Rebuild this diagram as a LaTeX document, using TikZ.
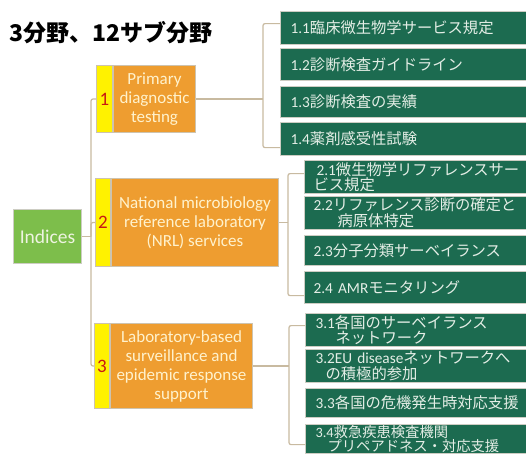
\documentclass[tikz,border=0pt]{standalone}
\usepackage{fontspec}
\setmainfont{Carlito}
\newfontfamily\cjk{Noto Sans CJK JP}
\usetikzlibrary{calc}
\definecolor{orng}{RGB}{238,157,48}
\definecolor{oborder}{RGB}{205,195,175}
\definecolor{otext}{RGB}{255,242,205}
\definecolor{nred}{RGB}{200,25,20}
\definecolor{dgreen}{RGB}{28,107,80}
\definecolor{gborder}{RGB}{205,205,195}
\definecolor{gtext}{RGB}{228,238,230}
\definecolor{lgreen}{RGB}{125,190,75}
\definecolor{ltext}{RGB}{238,244,225}
\definecolor{lineclr}{RGB}{200,186,160}
\begin{document}
\begin{tikzpicture}[x=1pt,y=-1pt,
  gbox/.style={draw=gborder, line width=1.2pt, fill=dgreen, text=gtext,
    font=\cjk\fontsize{15.3}{15.8}\selectfont, anchor=north west, align=left,
    inner ysep=0pt, inner xsep=10pt, text width=230pt, minimum height=#1},
  obox/.style={draw=oborder, line width=1pt, fill=orng, text=otext,
    font=\fontsize{17}{19}\selectfont, align=center, anchor=north west, inner sep=0pt},
  ystrip/.style={draw=oborder, line width=1pt, fill=yellow, text=nred,
    font=\fontsize{19}{19}\selectfont, anchor=north east, inner sep=0pt},
  conn/.style={draw=lineclr, line width=1.2pt, rounded corners=2pt}]
\clip (0,0) rectangle (526,453);
\fill[white] (0,0) rectangle (526,453);

% title
\node[anchor=west, inner sep=0pt, font=\cjk\bfseries\fontsize{23}{23}\selectfont] (title) at (9,33) {3分野、12サブ分野};

% root
\node[draw=gborder, line width=1pt, fill=lgreen, text=ltext, anchor=north west,
  minimum width=68pt, minimum height=54pt, inner sep=0pt,
  font=\fontsize{19.5}{20}\selectfont] (ind) at (13,209) {Indices};

% orange category boxes
\node[obox, minimum width=82pt, minimum height=67pt] (b1) at (113,65) {Primary\\diagnostic\\testing};
\node[ystrip, minimum width=16pt, minimum height=67pt] (n1) at (b1.north west) {1};
\node[obox, minimum width=167pt, minimum height=88pt] (b2) at (111,178) {National microbiology\\reference laboratory\\(NRL) services};
\node[ystrip, minimum width=15pt, minimum height=88pt] (n2) at (b2.north west) {2};
\node[obox, minimum width=142pt, minimum height=85pt] (b3) at (110,323) {Laboratory-based\\surveillance and\\epidemic response\\support};
\node[ystrip, minimum width=15pt, minimum height=85pt] (n3) at (b3.north west) {3};

% group 1
\node[gbox=33pt] (g11) at (280,11) {{\rmfamily 1.1}臨床微生物学サービス規定};
\node[gbox=32pt] (g12) at (280,48) {{\rmfamily 1.2}診断検査ガイドライン};
\node[gbox=31pt] (g13) at (280,86) {{\rmfamily 1.3}診断検査の実績};
\node[gbox=33pt] (g14) at (280,122) {{\rmfamily 1.4}薬剤感受性試験};

% group 2
\node[gbox=33pt, inner xsep=12pt] (g21) at (304,160) {{\rmfamily 2.1}微生物学リファレンスサー\\\hspace*{-3pt}ビス規定};
\node[gbox=33pt, inner xsep=9pt] (g22) at (304,196) {{\rmfamily 2.2}リファレンス診断の確定と\\\hspace*{24pt}病原体特定};
\node[gbox=30pt, inner xsep=9pt] (g23) at (304,235) {{\rmfamily 2.3}分子分類サーベイランス};
\node[gbox=32pt, inner xsep=9pt] (g24) at (304,271) {{\rmfamily 2.4 AMR}モニタリング};

% group 3
\node[gbox=33pt] (g31) at (305,313) {{\rmfamily 3.1}各国のサーベイランス\\\hspace*{20pt}ネットワーク};
\node[gbox=33pt] (g32) at (305,349) {{\rmfamily 3.2EU disease}ネットワークへ\\\hspace*{10pt}の積極的参加};
\node[gbox=29pt] (g33) at (305,388) {{\rmfamily 3.3}各国の危機発生時対応支援};
\node[gbox=29pt, font=\cjk\fontsize{14.3}{14.8}\selectfont] (g34) at (305,424) {{\rmfamily 3.4}救急疾患検査機関\\\hspace*{12pt}プリペアドネス・対応支援};

% trunk
\draw[conn] (ind.east) -- ++(9,0) coordinate (tr);
\draw[conn] (n1.west) -| (tr) |- (n3.west);
\draw[conn] (tr) |- (n2.west);

% brackets
\draw[conn] (b1.east) -- ++(67,0) coordinate (k1);
\draw[conn] ([yshift=4.5pt]g11.west) -| (k1) |- ([yshift=-8.5pt]g14.west);
\draw[conn] (b2.east) -- ++(9,0) coordinate (k2);
\draw[conn] ([yshift=3.5pt]g21.west) -| (k2) |- ([yshift=-8pt]g24.west);
\draw[conn] (b3.east) -- ++(36,0) coordinate (k3);
\draw[conn] ([yshift=4.5pt]g31.west) -| (k3) |- ([yshift=-5.5pt]g34.west);
\end{tikzpicture}
\end{document}
